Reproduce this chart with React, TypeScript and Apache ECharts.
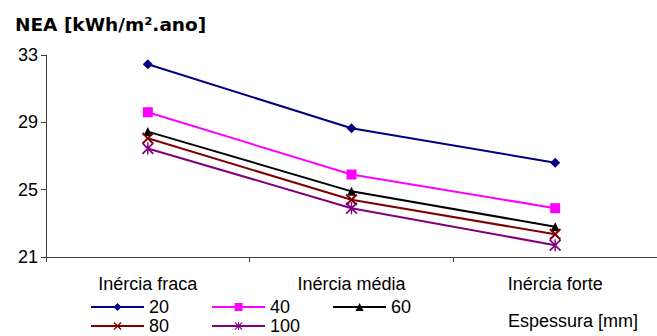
import React, { useEffect, useRef } from "react";
import * as echarts from "echarts";

const categories = ["Inércia fraca", "Inércia média", "Inércia forte"];
const seriesNames = ["20", "40", "60", "80", "100"];
const s20 = [32.45, 28.65, 26.6];
const s40 = [29.6, 25.9, 23.9];
const s60 = [28.45, 24.9, 22.8];
const s80 = [28.05, 24.4, 22.35];
const s100 = [27.45, 23.9, 21.7];
const yTicks = { min: 21, max: 33, step: 4 };
const titleText = "NEA [kWh/m².ano]";
const xTitle = "Espessura [mm]";

const X_PATH = "path://M0,1.2 L1.2,0 L5,3.8 L8.8,0 L10,1.2 L6.2,5 L10,8.8 L8.8,10 L5,6.2 L1.2,10 L0,8.8 L3.8,5 Z";
const STAR_PATH =
  "path://M0,1 L1,0 L5,4 L9,0 L10,1 L6,5 L10,9 L9,10 L5,6 L1,10 L0,9 L4,5 Z M4.4,0 L5.6,0 L5.6,10 L4.4,10 Z";

const FONT = "'Liberation Sans', Arial, sans-serif";

export default function App() {
  const ref = useRef<HTMLDivElement>(null);
  useEffect(() => {
    const chart = echarts.init(ref.current!, null, { renderer: "svg" });
    const mk = (name: string, data: number[], color: string, symbol: string, size: number) => ({
      name,
      type: "line",
      data,
      symbol,
      symbolSize: size,
      showSymbol: true,
      lineStyle: { color, width: 2 },
      itemStyle: { color },
      emphasis: { disabled: true },
    });
    const legendCommon = {
      itemWidth: 53,
      itemHeight: 10,
      itemGap: 42,
      padding: 0,
      orient: "horizontal" as const,
      textStyle: { fontSize: 18, color: "#000", fontFamily: FONT },
      selectedMode: false,
    };
    chart.setOption({
      animation: false,
      backgroundColor: "#fff",
      title: {
        text: titleText,
        left: 10,
        top: 10,
        textStyle: { fontSize: 18.5, fontWeight: "bold", color: "#000", fontFamily: "'DejaVu Sans', Verdana, sans-serif" },
      },
      grid: { left: 46, top: 55, width: 619, height: 202 },
      xAxis: {
        type: "category",
        data: categories,
        boundaryGap: true,
        axisLine: { show: true, lineStyle: { color: "#404040", width: 1 } },
        axisTick: { show: true, length: 5, lineStyle: { color: "#404040" } },
        axisLabel: { fontSize: 18, color: "#000", margin: 18, fontFamily: FONT },
        splitLine: { show: false },
      },
      yAxis: {
        type: "value",
        min: yTicks.min,
        max: yTicks.max,
        interval: yTicks.step,
        axisLine: { show: true, lineStyle: { color: "#404040", width: 1 } },
        axisTick: { show: true, length: 5, lineStyle: { color: "#404040" } },
        axisLabel: { fontSize: 18, color: "#000", margin: 8, fontFamily: FONT },
        splitLine: { show: false },
      },
      legend: [
        { ...legendCommon, data: seriesNames.slice(0, 3), left: 90, top: 298 },
        { ...legendCommon, data: seriesNames.slice(3), left: 90, top: 317 },
      ],
      graphic: [
        {
          type: "text",
          left: 508,
          top: 312,
          style: { text: xTitle, fontSize: 18, fill: "#000", fontFamily: FONT },
        },
      ],
      series: [
        mk(seriesNames[0], s20, "#000080", "diamond", 10),
        mk(seriesNames[1], s40, "#FF00FF", "rect", 10),
        mk(seriesNames[2], s60, "#000000", "triangle", 9),
        mk(seriesNames[3], s80, "#800000", X_PATH, 12),
        mk(seriesNames[4], s100, "#800080", STAR_PATH, 12),
      ],
    });
    return () => chart.dispose();
  }, []);
  return (
    <div
      ref={ref}
      style={{ position: "fixed", left: 0, top: 0, width: 657, height: 336 }}
    />
  );
}
